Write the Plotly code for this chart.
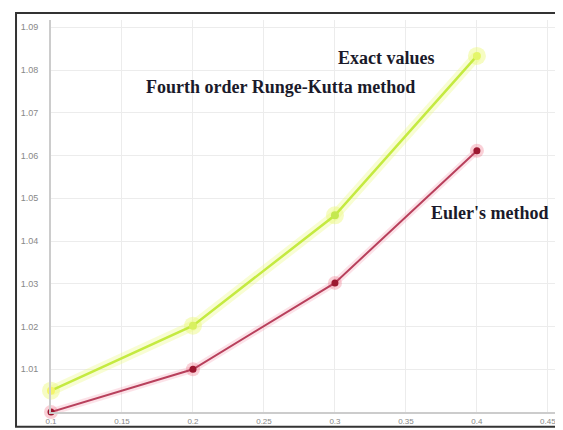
import plotly.graph_objects as go

x_vals = [0.1, 0.2, 0.3, 0.4]
euler_vals = [1.0000, 1.0100, 1.0302, 1.0611]
exact_vals = [1.0050, 1.0202, 1.0460, 1.0833]
exact_marker_colors = ["#f4f46a", "#d8f060", "#c4e850", "#e4f66a"]

x_ticks = [0.1, 0.15, 0.2, 0.25, 0.3, 0.35, 0.4, 0.45]
x_tick_text = ["0.1", "0.15", "0.2", "0.25", "0.3", "0.35", "0.4", "0.45"]
y_ticks = [1.01, 1.02, 1.03, 1.04, 1.05, 1.06, 1.07, 1.08, 1.09]
y_tick_text = ["1.01", "1.02", "1.03", "1.04", "1.05", "1.06", "1.07", "1.08", "1.09"]

labels = ["Exact values", "Fourth order Runge-Kutta method", "Euler's method"]
label_x = [0.336, 0.262, 0.4095]
label_y = [1.0829, 1.0760, 1.0465]

fig = go.Figure()

# glow for exact line
fig.add_trace(go.Scatter(x=x_vals, y=exact_vals, mode="lines+markers",
                         line=dict(color="rgba(235,248,130,0.35)", width=10),
                         marker=dict(size=18, color="rgba(235,248,120,0.45)"),
                         hoverinfo="skip", showlegend=False, cliponaxis=False))
fig.add_trace(go.Scatter(x=x_vals, y=exact_vals, mode="lines+markers",
                         line=dict(color="#c4ea40", width=2.5),
                         marker=dict(size=8, color=exact_marker_colors),
                         showlegend=False, cliponaxis=False))
# glow for euler line
fig.add_trace(go.Scatter(x=x_vals, y=euler_vals, mode="lines+markers",
                         line=dict(color="rgba(245,160,180,0.3)", width=7),
                         marker=dict(size=14, color="rgba(240,120,140,0.35)"),
                         hoverinfo="skip", showlegend=False, cliponaxis=False))
fig.add_trace(go.Scatter(x=x_vals, y=euler_vals, mode="lines+markers",
                         line=dict(color="#b8405c", width=2),
                         marker=dict(size=7, color="#9c1830"),
                         showlegend=False, cliponaxis=False))

for t, lx, ly in zip(labels, label_x, label_y):
    fig.add_annotation(x=lx, y=ly, text="<b>" + t + "</b>", showarrow=False,
                       xanchor="center", yanchor="middle",
                       font=dict(family="Liberation Serif", size=18, color="#1a1a2a"))

fig.add_shape(type="rect", xref="paper", yref="paper",
              x0=-0.0694, x1=1.0198, y0=-0.0377, y1=1.0176,
              line=dict(color="#333333", width=2), layer="above")

fig.update_xaxes(range=[0.1, 0.455], tickvals=x_ticks, ticktext=x_tick_text,
                 showgrid=True, gridcolor="#ececec", gridwidth=1,
                 showline=True, linecolor="#cccccc", linewidth=2,
                 tickfont=dict(size=8, color="#888888", family="Liberation Sans"),
                 zeroline=False, ticks="")
fig.update_yaxes(range=[1.0, 1.0917], tickvals=y_ticks, ticktext=y_tick_text,
                 showgrid=True, gridcolor="#ececec", gridwidth=1,
                 showline=True, linecolor="#cccccc", linewidth=2,
                 tickfont=dict(size=9, color="#888888", family="Liberation Sans"),
                 ticklabelstandoff=9,
                 zeroline=False, ticks="")

fig.update_layout(width=563, height=430,
                  margin=dict(l=43, r=16, t=12, b=20),
                  paper_bgcolor="white", plot_bgcolor="white")

fig.write_html("out.html")
